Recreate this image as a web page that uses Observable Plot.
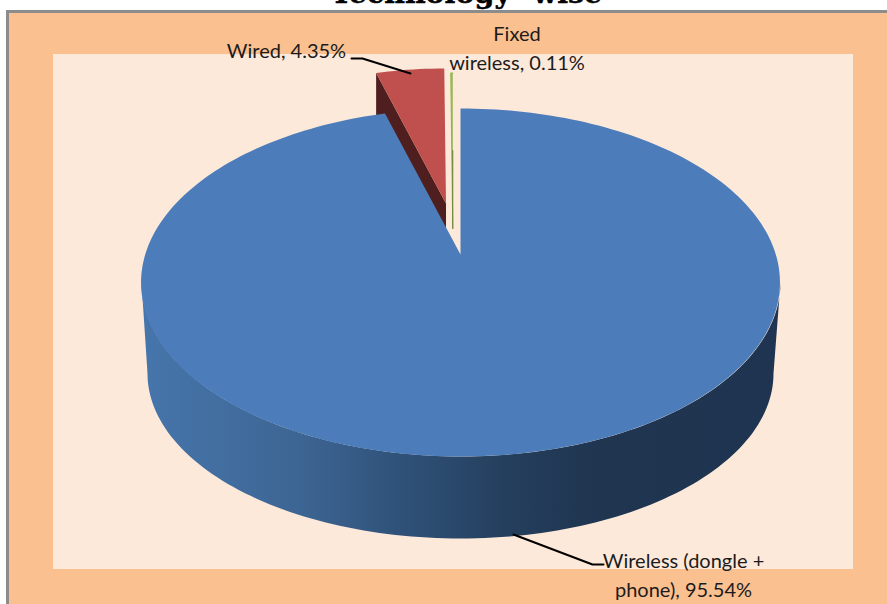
<!DOCTYPE html>
<html>
<head>
<meta charset="utf-8">
<style>html,body{margin:0;padding:0;background:#fff;overflow:hidden}</style>
<script src="https://cdn.jsdelivr.net/npm/d3@7"></script>
<script src="https://cdn.jsdelivr.net/npm/@observablehq/plot@0.6"></script>
</head>
<body>
<div id="chart"></div>
<script>
const categories = ["Wireless (dongle + phone)", "Wired", "Fixed wireless"];
const shares = [95.54, 4.35, 0.11];
const title = "Technology -wise";
const labelText = ["Wireless (dongle +\nphone), 95.54%", "Wired, 4.35%", "Fixed\nwireless, 0.11%"];

const W = 887, H = 604;
// Perspective projection of the pie's circle to the picture plane
const persp = {k: -0.161, R: 315.3, S: 169.5};
function project(deg, apex, scale) {
  const t = deg * Math.PI / 180, v = -Math.cos(t), d = 1 + persp.k * v;
  return {x: apex.x + scale * persp.R * Math.sin(t) / d, y: apex.y + scale * persp.S * v / d};
}
// Slice angles from the shares, clockwise from 12 o'clock
let acc = 0;
const slices = shares.map((s, i) => { const a0 = acc; acc += s * 3.6; return {i, a0, a1: acc}; });
function arc(a0, a1, apex, scale) {
  const n = Math.max(2, Math.ceil((a1 - a0) / 1.5)), pts = [];
  for (let j = 0; j <= n; j++) pts.push(project(a0 + (a1 - a0) * j / n, apex, scale));
  return pts;
}
const placement = [
  {apex: {x: 460, y: 254}, scale: 1},
  {apex: {x: 445.5, y: 203}, scale: 0.925},
  {apex: {x: 452.3, y: 228}, scale: 1.065}
];
const sliceTop = slices.map((s, i) => [placement[i].apex, ...arc(s.a0, s.a1, placement[i].apex, placement[i].scale)]);

// Rim of the big slice: lower half of the top face and of the bottom ellipse
const rimTop = d3.range(0, 181, 1.5).map(d => ({
  x: 460.5 - 319.5 * Math.cos(d * Math.PI / 180), y: 282 + 174 * Math.sin(d * Math.PI / 180)}));
const rimBottom = d3.range(180, -1, -1.5).map(d => ({
  x: 460 - 313 * Math.cos(d * Math.PI / 180), y: 373 + 165 * Math.sin(d * Math.PI / 180)}));
const rim = [...rimTop, ...rimBottom];

// Cut face of the wired slice
const wiredOuter = sliceTop[1][1];
const wiredApex = sliceTop[1][0];
const wiredWall = [wiredApex, wiredOuter, {x: wiredOuter.x, y: wiredOuter.y + 60}, {x: wiredApex.x, y: wiredApex.y + 27}];
const fixedWall = [{x: 452.3, y: 150}, {x: 452.3, y: 228}];

const leaders = [
  [{x: 513, y: 534}, {x: 592, y: 564}, {x: 603, y: 564}],
  [{x: 351, y: 58}, {x: 362, y: 58}, {x: 410, y: 73}]
];
const labels = [
  {x: 683, y: 572.5, t: labelText[0]},
  {x: 286, y: 48, t: labelText[1]},
  {x: 516.5, y: 46, t: labelText[2]}
];
const gradStops = [[147, "#4675ab"], [300, "#3d6593"], [403, "#2f5178"], [510, "#243e5c"], [600, "#1f3550"], [773, "#1e3450"]];

const labelFont = {fontFamily: "Lato, sans-serif", fontSize: 20, fill: "#1c1c1c", lineHeight: 1.45, lineAnchor: "middle", text: "t", x: "x", y: "y", textAnchor: "middle"};

const chart = Plot.plot({
  width: W, height: H,
  margin: 0,
  x: {domain: [0, W], range: [0, W], axis: null},
  y: {domain: [0, H], range: [0, H], axis: null},
  style: {background: "#fff"},
  marks: [
    () => {
      const defs = d3.create("svg:defs");
      const g = defs.append("linearGradient").attr("id", "wall").attr("gradientUnits", "userSpaceOnUse")
        .attr("x1", 147).attr("x2", 773).attr("y1", 0).attr("y2", 0);
      gradStops.forEach(([x, c]) => g.append("stop").attr("offset", (x - 147) / 626).attr("stop-color", c));
      return defs.node();
    },
    Plot.rect([{}], {x1: () => 6, x2: () => W, y1: () => 10, y2: () => H, fill: "#8c8c8c"}),
    Plot.rect([{}], {x1: () => 9, x2: () => W, y1: () => 13, y2: () => H, fill: "#fbc08f"}),
    Plot.rect([{}], {x1: () => 53, x2: () => 853, y1: () => 54, y2: () => 569, fill: "#fde9da"}),
    Plot.text([title], {x: () => 466, y: () => -6.5, text: d => d, fontFamily: "'DejaVu Serif', serif", fontWeight: "bold", fontSize: 28.5, fill: "#000", stroke: "#000", strokeWidth: 0.5, textAnchor: "middle", lineAnchor: "middle"}),
    Plot.line(wiredWall, {x: "x", y: "y", fill: "#4f1f1f", stroke: "none"}),
    Plot.line(sliceTop[1], {x: "x", y: "y", fill: "#c0504d", stroke: "none"}),
    Plot.line(sliceTop[2], {x: "x", y: "y", fill: "#9bbb59", stroke: "#8fb548", strokeWidth: 1.1}),
    Plot.line(fixedWall, {x: "x", y: "y", stroke: "#4f6228", strokeWidth: 0.7}),
    Plot.line(rim, {x: "x", y: "y", fill: "url(#wall)", stroke: "none"}),
    Plot.line(sliceTop[0], {x: "x", y: "y", fill: "#4c7dba", stroke: "none"}),
    ...leaders.map(l => Plot.line(l, {x: "x", y: "y", stroke: "#000", strokeWidth: 2})),
    Plot.text(labels, labelFont)
  ]
});
document.getElementById("chart").append(chart);
</script>
</body>
</html>
